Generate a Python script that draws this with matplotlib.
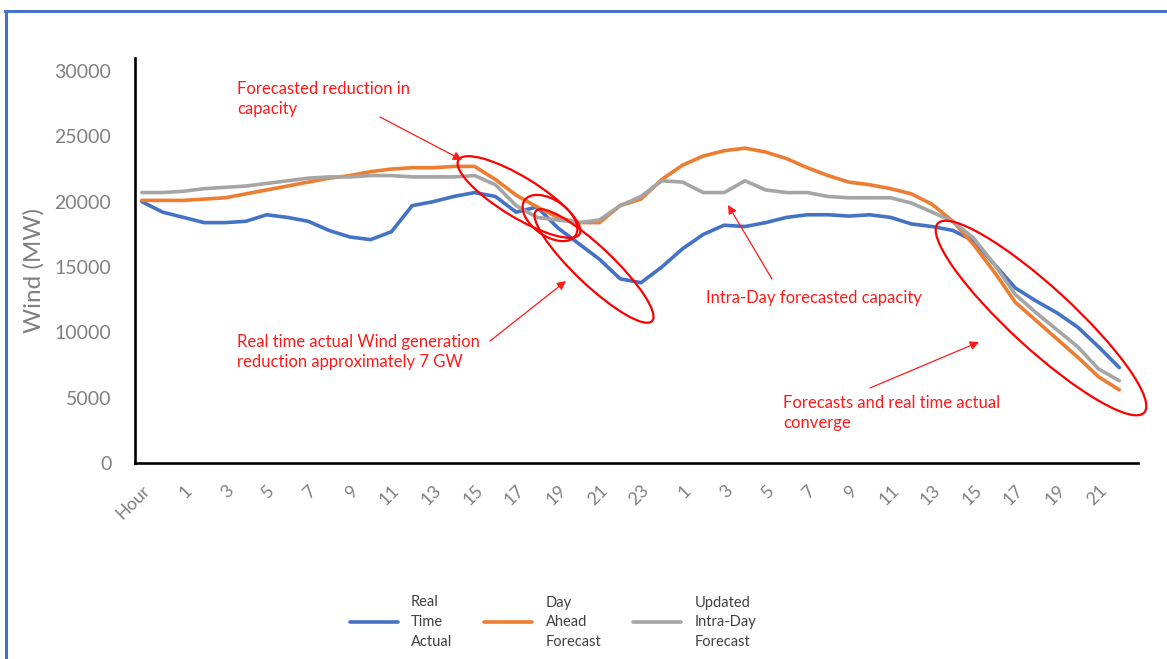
import matplotlib
matplotlib.use("Agg")
import matplotlib.pyplot as plt
from matplotlib.patches import Ellipse
from matplotlib.lines import Line2D

plt.rcParams['font.family'] = ['Lato', 'DejaVu Sans']

# ---------------- data ----------------
hours = ["Hour", "0", "1", "2", "3", "4", "5", "6", "7", "8", "9", "10", "11",
         "12", "13", "14", "15", "16", "17", "18", "19", "20", "21", "22", "23",
         "0", "1", "2", "3", "4", "5", "6", "7", "8", "9", "10", "11", "12",
         "13", "14", "15", "16", "17", "18", "19", "20", "21", "22"]

real_time_actual = [20000, 19200, 18800, 18400, 18400, 18500, 19000, 18800,
                    18500, 17800, 17300, 17100, 17700, 19700, 20000, 20400,
                    20700, 20400, 19200, 19600, 18000, 16800, 15600, 14100,
                    13800, 15000, 16400, 17500, 18200, 18100, 18400, 18800,
                    19000, 19000, 18900, 19000, 18800, 18300, 18100, 17800,
                    17000, 15200, 13400, 12400, 11500, 10400, 8900, 7300]

day_ahead_forecast = [20100, 20100, 20100, 20200, 20300, 20600, 20900, 21200,
                      21500, 21800, 22000, 22300, 22500, 22600, 22600, 22700,
                      22700, 21700, 20500, 19600, 18800, 18400, 18400, 19700,
                      20200, 21700, 22800, 23500, 23900, 24100, 23800, 23300,
                      22600, 22000, 21500, 21300, 21000, 20600, 19800, 18500,
                      16700, 14600, 12300, 10900, 9500, 8100, 6600, 5600]

intra_day_forecast = [20700, 20700, 20800, 21000, 21100, 21200, 21400, 21600,
                      21800, 21900, 21900, 22000, 22000, 21900, 21900, 21900,
                      22000, 21300, 19700, 18800, 18600, 18400, 18600, 19700,
                      20400, 21600, 21500, 20700, 20700, 21600, 20900, 20700,
                      20700, 20400, 20300, 20300, 20300, 19900, 19200, 18500,
                      17200, 15200, 12900, 11500, 10200, 8900, 7200, 6300]

series_labels = ["Real\nTime\nActual", "Day\nAhead\nForecast",
                 "Updated\nIntra-Day\nForecast"]
series_colors = ["#4472C4", "#ED7D31", "#A5A5A5"]
y_ticks = [0, 5000, 10000, 15000, 20000, 25000, 30000]

# ---------------- figure ----------------
W, H = 1167, 659
fig = plt.figure(figsize=(W / 100, H / 100), dpi=100)
ax = fig.add_axes([135 / W, 1 - 463 / H, (1138 - 135) / W, (463 - 58) / H])

x = list(range(len(hours)))
lines = []
for vals, col, lab in zip([real_time_actual, day_ahead_forecast, intra_day_forecast],
                          series_colors, series_labels):
    ln, = ax.plot(x, vals, color=col, lw=2.6, label=lab, solid_capstyle='round',
                  solid_joinstyle='round', zorder=3)
    lines.append(ln)

ax.set_xlim(-0.33, 47.9)
ax.set_ylim(0, 31000)
ax.set_yticks(y_ticks)
ax.set_yticklabels([str(v) for v in y_ticks], fontsize=14, color='#808080')
ax.set_xticks(x[::2])
ax.set_xticklabels(hours[::2], rotation=45, ha='right', rotation_mode='anchor',
                   fontsize=13, color='#808080')
ax.tick_params(axis='both', length=0)
ax.tick_params(axis='y', pad=17)
ax.tick_params(axis='x', pad=14)
for s in ['top', 'right']:
    ax.spines[s].set_visible(False)
for s in ['left', 'bottom']:
    ax.spines[s].set_linewidth(1.9)
    ax.spines[s].set_color('black')
ax.set_ylabel("Wind (MW)", fontsize=17.5, color='#808080')
ax.yaxis.set_label_coords(-0.09, 0.475)

# legend
leg = fig.legend(handles=lines, labels=series_labels, loc='center',
                 bbox_to_anchor=(553 / W, 1 - 622 / H), ncol=3, frameon=False,
                 fontsize=10.5, handlelength=3.3, columnspacing=2.2,
                 handletextpad=0.9, labelcolor='#404040')
for t in leg.get_texts():
    t.set_linespacing(1.5)

# ---------------- annotations (overlay in pixel coords) ----------------
ov = fig.add_axes([0, 0, 1, 1], facecolor='none')
ov.set_xlim(0, W)
ov.set_ylim(H, 0)
ov.axis('off')

red = '#ff1a1a'
notes = [
    ("Forecasted reduction in\ncapacity", 237, 99),
    ("Real time actual Wind generation\nreduction approximately 7 GW", 237, 352),
    ("Intra-Day forecasted capacity", 706, 298),
    ("Forecasts and real time actual\nconverge", 783, 413),
]
for txt, tx, ty in notes:
    ov.text(tx, ty, txt, color=red, fontsize=12, ha='left', va='center',
            linespacing=1.35)

arrows = [((380, 117), (462, 160)),
          ((490, 341), (566, 281)),
          ((772, 279), (728, 205)),
          ((870, 388), (979, 342))]
for (x0, y0), (x1, y1) in arrows:
    ov.annotate("", xy=(x1, y1), xytext=(x0, y0),
                arrowprops=dict(arrowstyle='-|>', color=red, lw=0.9,
                                mutation_scale=13, shrinkA=0, shrinkB=0))

ellipses = [((519, 197), 142, 40, 31.5),
            ((550, 218), 62, 36, 35),
            ((594, 266), 160, 38, 43.5),
            ((1041, 318), 280, 62, 42.5)]
for (cx, cy), w, h, ang in ellipses:
    ov.add_patch(Ellipse((cx, cy), w, h, angle=ang, fill=False, edgecolor='#ff0000',
                         lw=1.6))

# frame
fig.add_artist(Line2D([5 / W, 1], [1 - 11 / H, 1 - 11 / H], color='#4472C4', lw=2.2,
                      transform=fig.transFigure))
fig.add_artist(Line2D([6 / W, 6 / W], [0, 1 - 11 / H], color='#4472C4', lw=2.2,
                      transform=fig.transFigure))

fig.savefig("out.png", dpi=100)
